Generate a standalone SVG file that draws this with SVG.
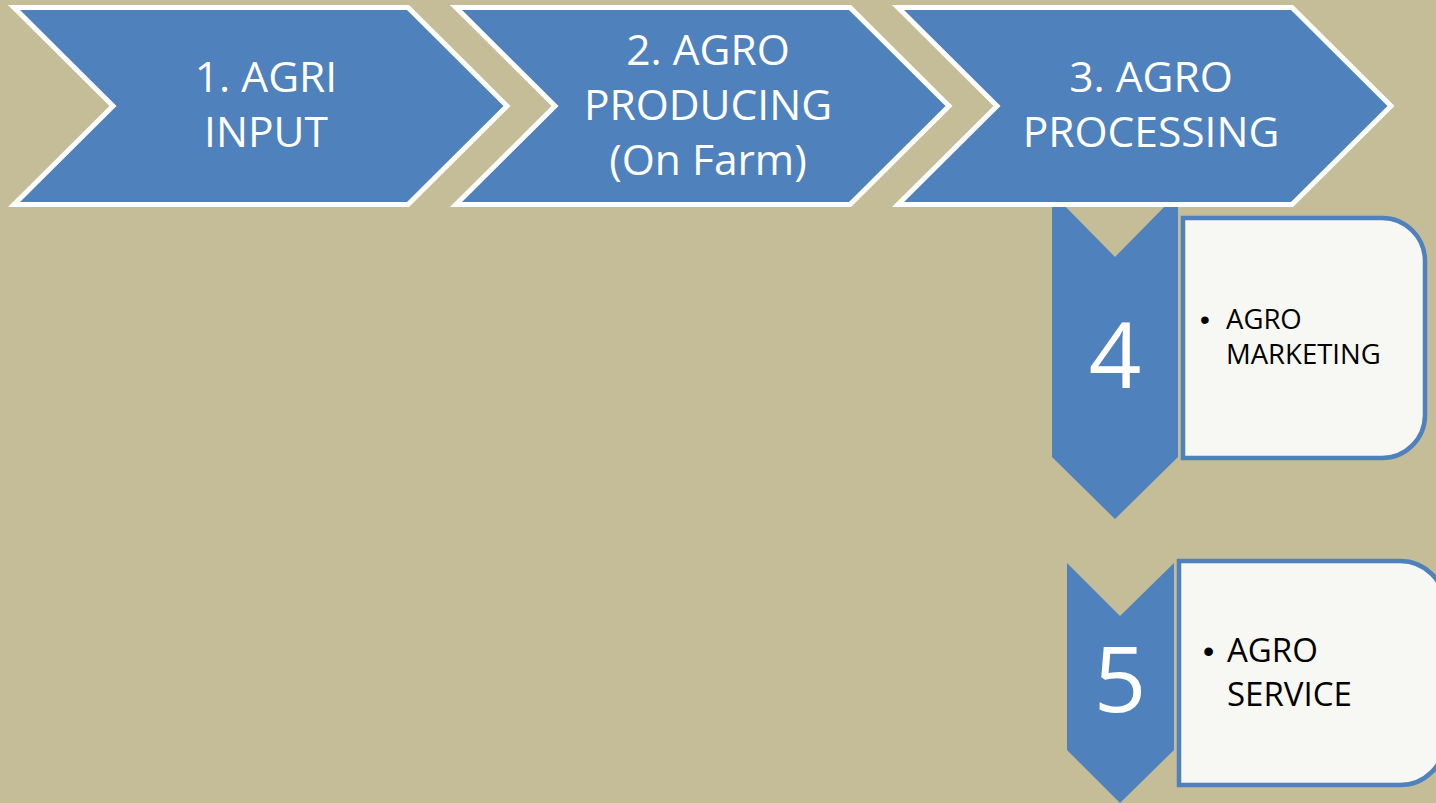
<svg xmlns="http://www.w3.org/2000/svg" width="1436" height="803" viewBox="0 0 1436 803">
<style>
.bg{fill:#c4bd97}
.chev{fill:#4f81bd;stroke:#ffffff;stroke-width:5;stroke-linejoin:miter}
.down{fill:#4f81bd}
.box{fill:#f7f8f3;stroke:#4f81bd;stroke-width:4.5}
.ct{font-family:"Open Sans","Liberation Sans",sans-serif;font-size:42.5px;fill:#ffffff;text-anchor:middle}
.num{font-family:"Open Sans","Liberation Sans",sans-serif;font-size:92px;fill:#ffffff;text-anchor:middle}
.bt{font-family:"Open Sans","Liberation Sans",sans-serif;fill:#000000}
.bul{font-family:"Liberation Sans",sans-serif;fill:#000000}
</style>
<rect class="bg" x="0" y="0" width="1436" height="803"/>
<g id="connectors"></g>
<g id="step4">
<polygon class="down" points="1052,198 1057,198 1115,257 1173,198 1178,198 1178,457 1115,519 1052,457"/>
<text class="num" x="1115" y="388">4</text>
</g>
<g id="box4">
<path class="box" d="M1183,218 H1382 A43,43 0 0 1 1425,261 V415 A43,43 0 0 1 1382,458 H1183 Z"/>
<text class="bul" font-size="28" x="1200" y="329">•</text>
<text class="bt" font-size="27.5" x="1226" y="329">AGRO</text>
<text class="bt" font-size="27.5" x="1226" y="364">MARKETING</text>
</g>
<g id="step5">
<polygon class="down" points="1067,563 1120,616 1174,563 1174,750 1120,803 1067,750"/>
<text class="num" x="1120" y="712">5</text>
</g>
<g id="box5">
<path class="box" d="M1179,561 H1400 A45,45 0 0 1 1445,606 V740 A45,45 0 0 1 1400,785 H1179 Z"/>
<text class="bul" font-size="32" x="1203" y="662">•</text>
<text class="bt" font-size="33" x="1227" y="662">AGRO</text>
<text class="bt" font-size="33" x="1227" y="706">SERVICE</text>
</g>
<g id="step1">
<polygon class="chev" points="14,7.5 113,106 14,204.5 408,204.5 507,106 408,7.5"/>
<text class="ct" x="266" y="92">1. AGRI</text>
<text class="ct" x="266" y="147">INPUT</text>
</g>
<g id="step2">
<polygon class="chev" points="456,7.5 555,106 456,204.5 850,204.5 949,106 850,7.5"/>
<text class="ct" x="708" y="65">2. AGRO</text>
<text class="ct" x="708" y="120">PRODUCING</text>
<text class="ct" x="708" y="175">(On Farm)</text>
</g>
<g id="step3">
<polygon class="chev" points="898,7.5 997,106 898,204.5 1292,204.5 1391,106 1292,7.5"/>
<text class="ct" x="1151" y="92">3. AGRO</text>
<text class="ct" x="1151" y="147">PROCESSING</text>
</g>
</svg>
